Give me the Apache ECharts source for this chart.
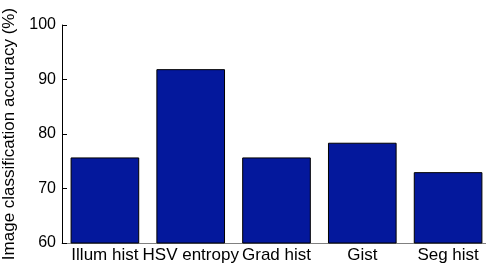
<!DOCTYPE html>
<html>
<head>
<meta charset="utf-8">
<script src="https://cdn.jsdelivr.net/npm/echarts@6/dist/echarts.min.js"></script>
<style>
  html, body { margin: 0; padding: 0; background: #fff; }
  #chart { width: 486px; height: 265px; }
</style>
</head>
<body>
<div id="chart"></div>
<script>
  // categories and accuracy values (%)
  const categories = ['Illum hist', 'HSV entropy', 'Grad hist', 'Gist', 'Seg hist']
  const accuracy = [75.7, 91.9, 75.7, 78.4, 73.0]
  const yTicks = [60, 70, 80, 90, 100]

  const chart = echarts.init(document.getElementById('chart'))
  const font = 'Liberation Sans, Arial, Helvetica, sans-serif'

  chart.setOption({
    animation: false,
    grid: {
      left: 62,
      top: 25,
      width: 429,
      height: 218,
      outerBoundsMode: 'none',
      containLabel: false
    },
    xAxis: {
      type: 'category',
      data: categories,
      axisLine: { lineStyle: { color: '#808080', width: 1 } },
      axisTick: { show: false },
      axisLabel: {
        color: '#000',
        fontFamily: font,
        fontSize: 17,
        margin: 4,
        interval: 0
      }
    },
    yAxis: {
      type: 'value',
      min: yTicks[0],
      max: yTicks[yTicks.length - 1],
      interval: 10,
      name: 'Image classification accuracy (%)',
      nameLocation: 'middle',
      nameGap: 44,
      nameTextStyle: { color: '#000', fontFamily: font, fontSize: 17 },
      axisLine: { show: true, lineStyle: { color: '#000', width: 1 } },
      axisTick: { show: true, inside: true, length: 5, lineStyle: { color: '#000' } },
      axisLabel: { color: '#000', fontFamily: font, fontSize: 16, margin: 6 },
      splitLine: { show: false }
    },
    series: [{
      type: 'bar',
      data: accuracy,
      barWidth: '80%',
      itemStyle: {
        color: '#04189c',
        borderColor: '#000',
        borderWidth: 1
      }
    }]
  })
</script>
</body>
</html>
